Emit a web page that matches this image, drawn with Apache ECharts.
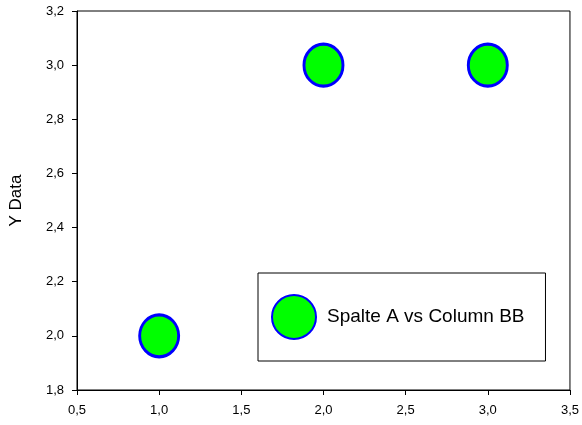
<!DOCTYPE html>
<html>
<head>
<meta charset="utf-8">
<script src="https://cdn.jsdelivr.net/npm/echarts@6/dist/echarts.min.js"></script>
<style>html,body{margin:0;padding:0;background:#fff}#c{width:582px;height:425px}</style>
</head>
<body>
<div id="c"></div>
<script>
var xValues = [1.0, 2.0, 3.0];
var yValues = [2.0, 3.0, 3.0];
var seriesName = 'Spalte A vs Column BB';
var yAxisTitle = 'Y Data';

var FONT = '"Liberation Sans", Arial, sans-serif';
function fmt(v){ return v.toFixed(1).replace('.', ','); }

var chart = echarts.init(document.getElementById('c'));
chart.setOption({
  animation: false,
  backgroundColor: '#fff',
  grid: { left: 76, right: 11, top: 11, bottom: 35, show: true, borderColor: '#000', borderWidth: 1, backgroundColor: 'transparent' },
  xAxis: {
    type: 'value', min: 0.5, max: 3.5, interval: 0.5,
    axisLine: { show: true, lineStyle: { color: '#000', width: 1 } },
    axisTick: { show: true, inside: false, length: 5, lineStyle: { color: '#000' } },
    axisLabel: { color: '#000', fontFamily: FONT, fontSize: 13, margin: 14, formatter: fmt },
    splitLine: { show: false }
  },
  yAxis: {
    type: 'value', min: 1.8, max: 3.2, interval: 0.2,
    name: yAxisTitle, nameLocation: 'middle', nameGap: 52,
    nameTextStyle: { color: '#000', fontFamily: FONT, fontSize: 17 },
    axisLine: { show: true, lineStyle: { color: '#000', width: 1 } },
    axisTick: { show: true, inside: false, length: 5, lineStyle: { color: '#000' } },
    axisLabel: { color: '#000', fontFamily: FONT, fontSize: 13, margin: 13, formatter: fmt },
    splitLine: { show: false }
  },
  legend: {
    left: 258, top: 273,
    padding: [21, 21, 21, 13],
    borderColor: '#000', borderWidth: 1,
    itemWidth: 48, itemHeight: 44,
    textStyle: { color: '#000', fontFamily: FONT, fontSize: 19, padding: [0, 0, 0, 4] },
    data: [{ name: seriesName, icon: 'circle' }]
  },
  series: [{
    type: 'scatter', name: seriesName,
    data: xValues.map(function(x, i){ return [x, yValues[i]]; }),
    symbol: 'circle', symbolSize: [39, 42],
    itemStyle: { color: '#00ff00', borderColor: '#0000ff', borderWidth: 3, opacity: 1 }
  }]
});
</script>
</body>
</html>
